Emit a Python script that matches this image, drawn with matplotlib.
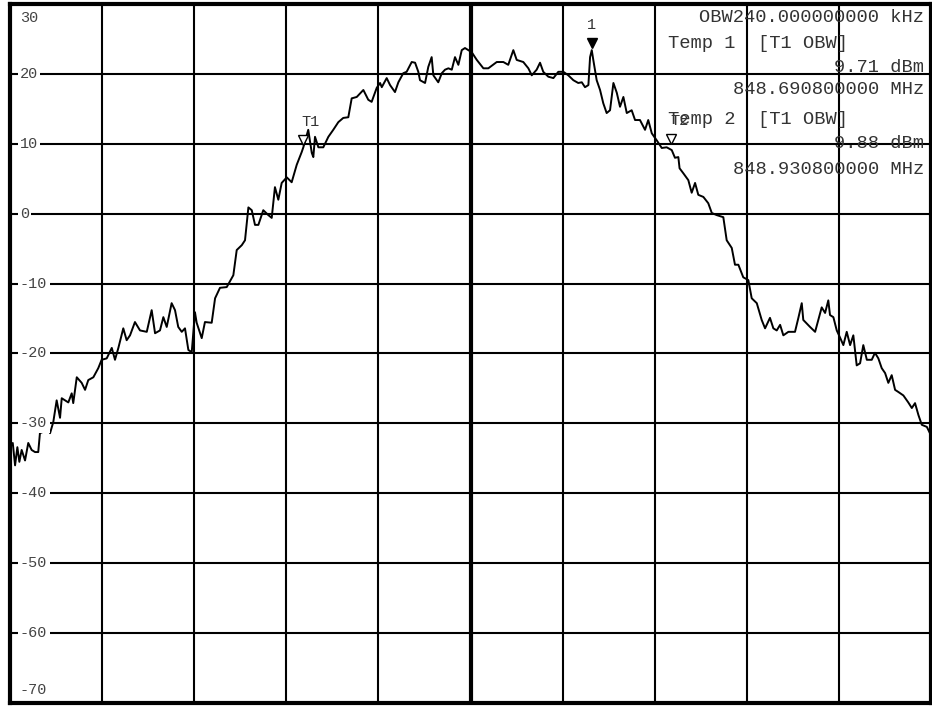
import matplotlib
matplotlib.use("Agg")
from matplotlib import pyplot as plt
from matplotlib.transforms import blended_transform_factory, offset_copy

# sweep 848.5 .. 849.1 MHz (span 600 kHz), offsets in kHz from sweep start
freq_khz = [0, 1.8, 3.3, 4.8, 6.1, 7.6, 9.8, 11.9, 14.1, 16.3, 18.4, 19.5, 21.7, 23.9, 26.1, 28.2, 30.4, 32.6,
            33.7, 35.8, 38.0, 40.2, 41.2, 43.5, 46.7, 48.9, 51.0, 54.3, 57.5, 59.7, 63.0, 66.3, 68.4, 70.6, 73.8,
            76.0, 78.2, 81.4, 84.7, 89.1, 92.3, 94.5, 97.7, 99.9, 102.1, 105.3, 107.5, 109.6, 111.9, 114.0, 116.2,
            118.4, 120.5, 121.6, 124.9, 127.0, 131.4, 133.6, 136.8, 141.2, 145.5, 147.7, 151.0, 153.1, 155.3,
            157.5, 159.6, 161.8, 165.0, 168.3, 170.5, 172.6, 174.8, 177.0, 180.3, 183.5, 186.8, 190.0, 191.1,
            194.3, 196.6, 197.6, 198.7, 200.9, 204.1, 207.4, 210.6, 213.9, 217.1, 220.4, 222.6, 225.9, 230.2,
            233.4, 235.6, 238.9, 241.1, 242.2, 245.4, 247.6, 250.8, 253.0, 256.2, 258.4, 261.7, 263.9, 266.0,
            267.1, 270.4, 272.5, 274.7, 275.8, 279.0, 281.3, 283.4, 285.6, 287.8, 289.9, 292.1, 294.3, 296.4,
            300.8, 304.1, 308.4, 311.6, 317.1, 321.4, 324.6, 327.9, 330.1, 334.4, 337.7, 339.9, 343.1, 345.3,
            347.4, 350.7, 354.0, 357.2, 360.5, 363.7, 367.0, 370.2, 372.5, 374.6, 376.8, 377.9, 379.0, 380.0,
            382.2, 384.4, 386.5, 388.7, 390.9, 393.1, 395.3, 397.4, 399.6, 401.8, 405.0, 407.2, 410.4, 413.7,
            415.8, 418.1, 421.3, 424.6, 427.8, 431.1, 433.2, 435.4, 436.2, 438.6, 441.9, 444.1, 446.3, 448.4,
            451.7, 454.9, 457.2, 460.4, 464.7, 466.9, 470.2, 472.3, 474.5, 477.7, 481.0, 483.2, 486.5, 489.7,
            491.9, 495.1, 497.3, 499.5, 501.7, 503.8, 507.1, 511.4, 513.6, 515.8, 516.8, 521.2, 524.5, 526.6,
            528.8, 531.0, 533.1, 534.2, 536.4, 538.6, 540.7, 542.9, 545.1, 547.3, 549.4, 551.6, 553.8, 555.9,
            558.2, 561.4, 563.5, 565.7, 567.9, 570.1, 572.2, 574.4, 576.6, 578.7, 582.0, 585.2, 587.5, 589.6,
            591.8, 594.0, 597.3, 599.3, 600.0]
level_dbm = [-33.5, -32.8, -36.0, -33.4, -35.5, -33.8, -35.3, -32.8, -33.8, -34.1, -34.1, -31.4, -31.2, -30.0,
             -31.4, -29.8, -26.7, -29.2, -26.4, -26.7, -27.0, -25.7, -27.1, -23.4, -24.2, -25.2, -23.8, -23.4,
             -22.1, -20.9, -20.7, -19.2, -20.9, -19.2, -16.4, -18.1, -17.4, -15.5, -16.7, -16.9, -13.8, -17.1,
             -16.7, -14.8, -16.2, -12.8, -13.8, -16.2, -16.9, -16.4, -19.5, -19.8, -14.1, -15.6, -17.8, -15.5,
             -15.6, -12.1, -10.6, -10.5, -8.8, -5.2, -4.5, -3.8, 0.9, 0.5, -1.6, -1.6, 0.5, -0.2, -0.6, 3.8,
             2.0, 4.4, 5.2, 4.5, 7.0, 8.8, 9.5, 12.0, 8.7, 8.1, 11.0, 9.5, 9.5, 11.0, 12.0, 13.1, 13.7, 13.8,
             16.5, 16.7, 17.7, 16.3, 16.0, 18.0, 18.7, 18.1, 19.4, 18.4, 17.4, 18.8, 20.1, 20.3, 21.7, 21.6,
             20.3, 19.1, 18.7, 21.0, 22.4, 19.8, 18.8, 20.1, 20.6, 20.8, 20.6, 22.4, 21.3, 23.4, 23.7, 23.1,
             22.0, 20.8, 20.8, 21.7, 21.7, 21.3, 23.4, 22.0, 21.7, 20.8, 19.8, 20.6, 21.6, 20.3, 19.6, 19.4,
             20.3, 20.3, 19.8, 19.1, 18.7, 18.8, 18.1, 18.4, 22.4, 23.4, 22.0, 19.1, 17.7, 15.8, 14.4, 14.8,
             18.7, 17.3, 15.3, 16.7, 14.4, 14.8, 13.4, 13.4, 12.0, 13.4, 11.5, 10.5, 9.4, 9.5, 9.1, 8.0, 8.1,
             6.5, 5.8, 4.8, 3.0, 4.4, 2.7, 2.4, 1.5, 0.1, -0.2, -0.5, -3.8, -4.9, -7.3, -7.3, -9.1, -9.5, -12.1,
             -12.8, -15.2, -16.4, -14.9, -16.4, -16.7, -15.9, -17.4, -16.9, -16.9, -14.9, -12.8, -15.2, -16.2,
             -16.9, -15.2, -13.4, -14.2, -12.4, -14.5, -14.8, -16.7, -17.7, -18.8, -16.9, -18.8, -17.4, -21.7,
             -21.4, -18.8, -20.9, -20.9, -19.9, -20.7, -22.1, -22.8, -24.2, -23.1, -25.2, -25.5, -26.0, -27.0,
             -27.8, -27.1, -28.8, -30.2, -30.5, -31.4, -32.0]

# markers: T1 / T2 are the OBW limits, 1 is the peak marker
marker_names = ["T1", "T2", "1"]
marker_freq_khz = [190.8, 430.8, 379.0]
marker_level_dbm = [9.71, 9.88, 23.5]

ytick_values = [30, 20, 10, 0, -10, -20, -30, -40, -50, -60, -70]
span_khz = 600
center_khz = 300

readout_right = ["OBW240.000000000 kHz", "9.71 dBm", "848.690800000 MHz", "9.88 dBm", "848.930800000 MHz"]
readout_temp = ["Temp 1", "Temp 2"]
readout_ref = "[T1 OBW]"

W, H = 932, 706
MONO = "Liberation Mono"

fig = plt.figure(figsize=(W / 100, H / 100), dpi=100)
ax = fig.add_axes([10 / W, 3 / H, 921 / W, 699 / H])

ax.plot(freq_khz, level_dbm, color="black", lw=1.4, zorder=3)
ax.set_xlim(0, span_khz)
ax.set_ylim(-70, 30)
ax.set_xticks(range(0, span_khz + 1, span_khz // 10))
ax.set_yticks(ytick_values)
ax.grid(True, color="black", lw=1.5)
ax.axvline(center_khz, color="black", lw=3)
ax.tick_params(length=0, labelleft=False, labelbottom=False)
for s in ax.spines.values():
    s.set_linewidth(3)

# level labels sit inside the grid, on white
lab_tr = blended_transform_factory(ax.transAxes, ax.transData)
for v in ytick_values:
    if v == ytick_values[0]:
        dy, bg = -14, None
    elif v == ytick_values[-1]:
        dy, bg = 13, None
    else:
        dy, bg = 0, dict(facecolor="white", edgecolor="none", pad=1.5)
    ax.annotate(str(v), xy=(0, v), xycoords=lab_tr, xytext=(10, dy), textcoords="offset pixels",
                ha="left", va="center", fontsize=11, color="#444444", family=MONO, bbox=bg, zorder=4)

# marker triangles sit just above the trace point
mk_tr = offset_copy(ax.transData, fig=fig, x=0, y=6, units="dots")
ax.plot(marker_freq_khz[:2], marker_level_dbm[:2], "v", ms=6.5, mfc="white", mec="black", mew=1,
        transform=mk_tr, zorder=5)
ax.plot(marker_freq_khz[2:], marker_level_dbm[2:], "v", ms=6.5, color="black", transform=mk_tr, zorder=5)
for name, f, lvl in zip(marker_names, marker_freq_khz, marker_level_dbm):
    dx = 0 if name == "1" else 8
    ax.annotate(name, xy=(f, lvl), xytext=(dx, 24), textcoords="offset pixels", ha="center", va="center",
                fontsize=11, color="#333333", family=MONO, zorder=5)


def px(x, y):
    return x / W, 1 - y / H


txt = dict(fontsize=13.5, color="#333333", family=MONO, va="center")
for s, y in zip(readout_right, [18, 67, 90, 144, 170]):
    fig.text(*px(924, y), s, ha="right", **txt)
for s, y in zip(readout_temp, [44, 119]):
    fig.text(*px(668, y), s, ha="left", **txt)
    fig.text(*px(758, y), readout_ref, ha="left", **txt)

fig.savefig("out.png", dpi=100)
